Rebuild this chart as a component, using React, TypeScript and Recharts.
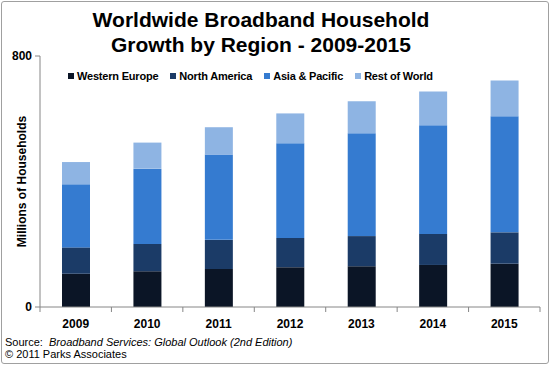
import React from 'react';
import { BarChart, Bar, XAxis, YAxis } from 'recharts';

const years = ['2009', '2010', '2011', '2012', '2013', '2014', '2015'];
const westernEurope = [106, 114, 121, 127, 130, 134, 138];
const northAmerica = [84, 87, 93, 93, 96, 99, 100];
const asiaPacific = [201, 240, 272, 302, 328, 346, 370];
const restOfWorld = [71, 83, 87, 95, 102, 108, 114];
const yTicks = [0, 800];

const series = [
  { key: 'we', name: 'Western Europe', color: '#0b1526', values: westernEurope },
  { key: 'na', name: 'North America', color: '#1b3b67', values: northAmerica },
  { key: 'ap', name: 'Asia & Pacific', color: '#357bd0', values: asiaPacific },
  { key: 'rw', name: 'Rest of World', color: '#8eb4e3', values: restOfWorld },
];

const data = years.map((year, i) => {
  const row: Record<string, string | number> = { year };
  series.forEach((s) => {
    row[s.key] = s.values[i];
  });
  return row;
});

const FONT = 'Arial, "Liberation Sans", sans-serif';
const AXIS = '#868686';
const W = 550;
const H = 365;
const MARGIN = { top: 56, right: 10, bottom: 28, left: 0 };
const Y_AXIS_W = 40;
const TICK_SIZE = 6;
const TICK_MARGIN = 6;
const BAND = (W - MARGIN.left - MARGIN.right - Y_AXIS_W) / years.length;

// year label plus an Excel-style tick mark between categories
function YearTick(props: any) {
  const { x, y, payload, index } = props;
  const axisY = y - TICK_SIZE - TICK_MARGIN;
  return (
    <g>
      <line x1={x - BAND / 2} x2={x - BAND / 2} y1={axisY} y2={axisY + 5} stroke={AXIS} />
      {index === years.length - 1 && (
        <line x1={x + BAND / 2} x2={x + BAND / 2} y1={axisY} y2={axisY + 5} stroke={AXIS} />
      )}
      <text
        x={x}
        y={y}
        dy="0.71em"
        textAnchor="middle"
        fontSize={12}
        fontWeight="bold"
        fill="#000"
        fontFamily={FONT}
      >
        {payload.value}
      </text>
    </g>
  );
}

export default function App() {
  return (
    <div
      style={{
        position: 'absolute',
        left: 0,
        top: 0,
        width: W,
        height: H,
        fontFamily: FONT,
        background: '#fff',
      }}
    >
      <div
        style={{
          position: 'absolute',
          left: 1,
          top: 1,
          width: 546,
          height: 361,
          border: '1px solid #a0a0a0',
          borderRadius: 3,
        }}
      />
      <div
        style={{
          position: 'absolute',
          left: 0,
          top: 7,
          width: 522,
          textAlign: 'center',
          fontSize: 21,
          fontWeight: 'bold',
          lineHeight: '25px',
          color: '#000',
        }}
      >
        Worldwide Broadband Household
        <br />
        Growth by Region - 2009-2015
      </div>
      <div
        style={{
          position: 'absolute',
          left: 68,
          top: 69,
          display: 'flex',
          gap: 12,
          fontSize: 11,
          fontWeight: 'bold',
          letterSpacing: -0.2,
          lineHeight: '14px',
        }}
      >
        {series.map((s) => (
          <div key={s.key} style={{ display: 'flex', alignItems: 'center' }}>
            <span
              style={{ width: 6, height: 6, background: s.color, marginRight: 3, display: 'inline-block' }}
            />
            <span>{s.name}</span>
          </div>
        ))}
      </div>
      <BarChart width={W} height={H} data={data} margin={MARGIN} barCategoryGap={0}>
        <XAxis
          dataKey="year"
          height={30}
          tickLine={false}
          tickSize={TICK_SIZE}
          tickMargin={TICK_MARGIN}
          axisLine={{ stroke: AXIS }}
          tick={<YearTick />}
          interval={0}
        />
        <YAxis
          width={Y_AXIS_W}
          domain={[0, 800]}
          ticks={yTicks}
          tickSize={5}
          tickMargin={3}
          axisLine={{ stroke: AXIS }}
          tickLine={{ stroke: AXIS }}
          tick={{ fontSize: 12, fontWeight: 'bold', fill: '#000', fontFamily: FONT }}
          label={{
            value: 'Millions of Households',
            angle: -90,
            position: 'center',
            dx: 2,
            style: { fontSize: 12, fontWeight: 'bold', fill: '#000', fontFamily: FONT },
          }}
        />
        {series.map((s) => (
          <Bar
            key={s.key}
            dataKey={s.key}
            name={s.name}
            stackId="a"
            fill={s.color}
            barSize={28}
            isAnimationActive={false}
          />
        ))}
      </BarChart>
      <div
        style={{
          position: 'absolute',
          left: 5,
          top: 336,
          fontSize: 11,
          lineHeight: '12px',
          color: '#000',
        }}
      >
        Source:&nbsp; <i>Broadband Services: Global Outlook (2nd Edition)</i>
        <br />© 2011 Parks Associates
      </div>
    </div>
  );
}
